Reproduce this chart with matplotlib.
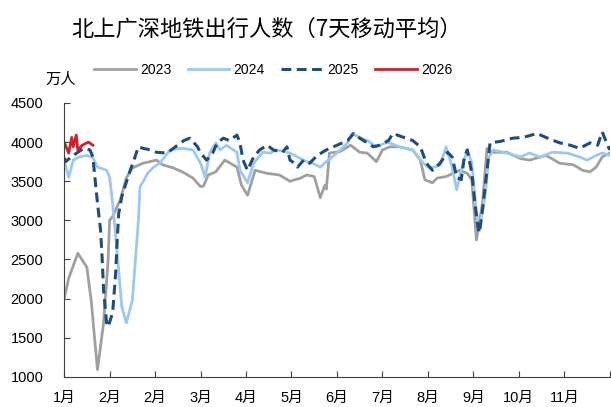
import matplotlib
matplotlib.use("Agg")
import matplotlib.pyplot as plt
import matplotlib.transforms as mtransforms

plt.rcParams['font.family'] = ['Liberation Sans', 'Noto Sans CJK SC', 'DejaVu Sans']

# day of year (0 = Jan 1) and 7-day average riders (万人)
d2023 = [0, 3, 9, 15, 18, 20, 22, 26, 29, 30, 32, 37, 41, 45, 52, 61, 65, 72, 78, 85, 90, 92,
         95, 100, 106, 114, 117, 121, 126, 134, 142, 149, 156, 160, 165, 169, 172, 173, 175,
         182, 189, 195, 200, 206, 210, 215, 221, 230, 235, 238, 243, 246, 252, 261, 266, 269,
         271, 272, 276, 279, 281, 292, 301, 307, 318, 327, 336, 342, 347, 351, 355, 360]
v2023 = [2000, 2260, 2580, 2400, 1950, 1510, 1090, 1690, 2490, 3000, 3050, 3260, 3540, 3670,
         3730, 3770, 3710, 3670, 3620, 3540, 3430, 3440, 3580, 3620, 3770, 3680, 3450, 3320,
         3640, 3600, 3580, 3500, 3540, 3580, 3560, 3290, 3450, 3400, 3860, 3880, 3960, 3870,
         3860, 3750, 3900, 3940, 3940, 3900, 3770, 3520, 3480, 3540, 3560, 3640, 3600, 3520,
         3000, 2750, 3220, 3920, 3870, 3870, 3790, 3770, 3830, 3730, 3710, 3640, 3620, 3680,
         3810, 3860]

d2024 = [0, 3, 6, 10, 15, 19, 22, 28, 30, 32, 35, 38, 41, 45, 47, 49, 50, 52, 55, 59, 63, 70,
         78, 85, 90, 93, 96, 100, 103, 107, 114, 116, 121, 125, 131, 136, 140, 149, 156, 160,
         164, 169, 173, 180, 187, 190, 195, 200, 206, 212, 215, 221, 230, 237, 241, 248, 252,
         256, 259, 262, 266, 269, 272, 274, 278, 280, 283, 292, 301, 307, 314, 322, 332, 340,
         345, 351, 355, 360]
v2024 = [3770, 3550, 3770, 3810, 3830, 3800, 3680, 3640, 3550, 3220, 2580, 1900, 1690, 1980,
         2490, 3000, 3430, 3490, 3600, 3680, 3730, 3900, 3920, 3900, 3730, 3550, 3860, 3990,
         3900, 3960, 3870, 3640, 3480, 3730, 3870, 3860, 3900, 3860, 3790, 3750, 3730, 3680,
         3750, 3860, 3990, 4110, 4060, 4020, 3940, 3990, 3990, 3940, 3900, 3730, 3670, 3700,
         3940, 3680, 3390, 3640, 3900, 3730, 3090, 2880, 3350, 3800, 3900, 3860, 3810, 3860,
         3810, 3870, 3860, 3810, 3770, 3830, 3860, 3830]

d2025 = [0, 1, 4, 9, 13, 17, 19, 20, 22, 24, 25, 26, 28, 29, 32, 34, 35, 36, 38, 42, 46, 49,
         52, 57, 61, 68, 72, 79, 83, 88, 90, 94, 98, 101, 105, 109, 114, 116, 118, 121, 125,
         129, 134, 138, 144, 147, 149, 152, 154, 158, 162, 167, 173, 180, 187, 191, 195, 200,
         204, 208, 214, 217, 224, 230, 235, 239, 243, 248, 253, 256, 259, 262, 264, 266, 269,
         271, 273, 274, 276, 279, 281, 288, 296, 303, 312, 319, 327, 334, 340, 347, 352, 355,
         359, 360]
v2025 = [3800, 3750, 3800, 3870, 3920, 3900, 3810, 3600, 3220, 2880, 2540, 2110, 1690, 1640,
         1820, 2330, 2750, 3090, 3300, 3550, 3770, 3940, 3920, 3900, 3870, 3860, 3920, 4020,
         4050, 3940, 3860, 3770, 3860, 3990, 4050, 4020, 4090, 3990, 3770, 3640, 3810, 3900,
         3960, 3900, 3870, 3940, 3770, 3730, 3680, 3770, 3730, 3830, 3900, 3960, 4020, 4110,
         4050, 3990, 3940, 3960, 4020, 4110, 4060, 4020, 3940, 3730, 3640, 3730, 3870, 3810,
         3550, 3520, 3810, 3900, 3600, 3220, 2920, 2840, 3130, 3640, 3990, 4010, 4050, 4060,
         4110, 4050, 3990, 3960, 3920, 3990, 3960, 4130, 3940, 3900]

d2026 = [0, 3, 5, 6, 8, 9, 12, 16, 19]
v2026 = [4000, 3860, 4060, 3940, 4090, 3900, 3960, 4000, 3960]

tick_days = list(range(0, 361, 30))
tick_labels = ['1月', '2月', '2月', '3月', '4月', '5月', '6月', '7月', '8月', '9月', '10月', '11月', '']

fig = plt.figure(figsize=(6.11, 4.07), dpi=100)
ax = fig.add_axes([0.105, 0.074, 0.893, 0.673])

ax.plot(d2023, v2023, color='#a0a0a0', lw=2, label='2023')
ax.plot(d2024, v2024, color='#9dc8f0', lw=2, label='2024')
ax.plot(d2025, v2025, color='#1f4e79', lw=2.2, ls=(0, (3.2, 1.8)), label='2025')
ax.plot(d2026, v2026, color='#d0202e', lw=2, label='2026')

ax.set_xlim(0, 360)
ax.set_ylim(1000, 4500)
ax.set_yticks(range(1000, 4501, 500))
ax.set_xticks(tick_days)
ax.set_xticklabels(tick_labels)
for lab in ax.get_xticklabels():
    lab.set_transform(lab.get_transform() + mtransforms.ScaledTranslation(5 / 100, 0, fig.dpi_scale_trans))

ax.tick_params(axis='both', direction='in', length=4, labelsize=10.5, color='#404040')
ax.tick_params(axis='x', pad=10)
ax.tick_params(axis='y', pad=15)
ax.spines['top'].set_visible(False)
ax.spines['right'].set_visible(False)
ax.spines['left'].set_color('#404040')
ax.spines['bottom'].set_color('#404040')

fig.text(0.436, 0.928, '北上广深地铁出行人数（7天移动平均）', ha='center', va='center',
         fontsize=16, family=['Noto Sans CJK SC', 'DejaVu Sans'])
fig.text(0.074, 0.805, '万人', ha='left', va='center', fontsize=11,
         family=['Noto Sans CJK SC', 'DejaVu Sans'])

fig.legend(loc='center', bbox_to_anchor=(0.447, 0.828), ncol=4, frameon=False,
           fontsize=10, handlelength=3.0, handletextpad=0.3, columnspacing=1.2)

fig.savefig('out.png', dpi=100)
